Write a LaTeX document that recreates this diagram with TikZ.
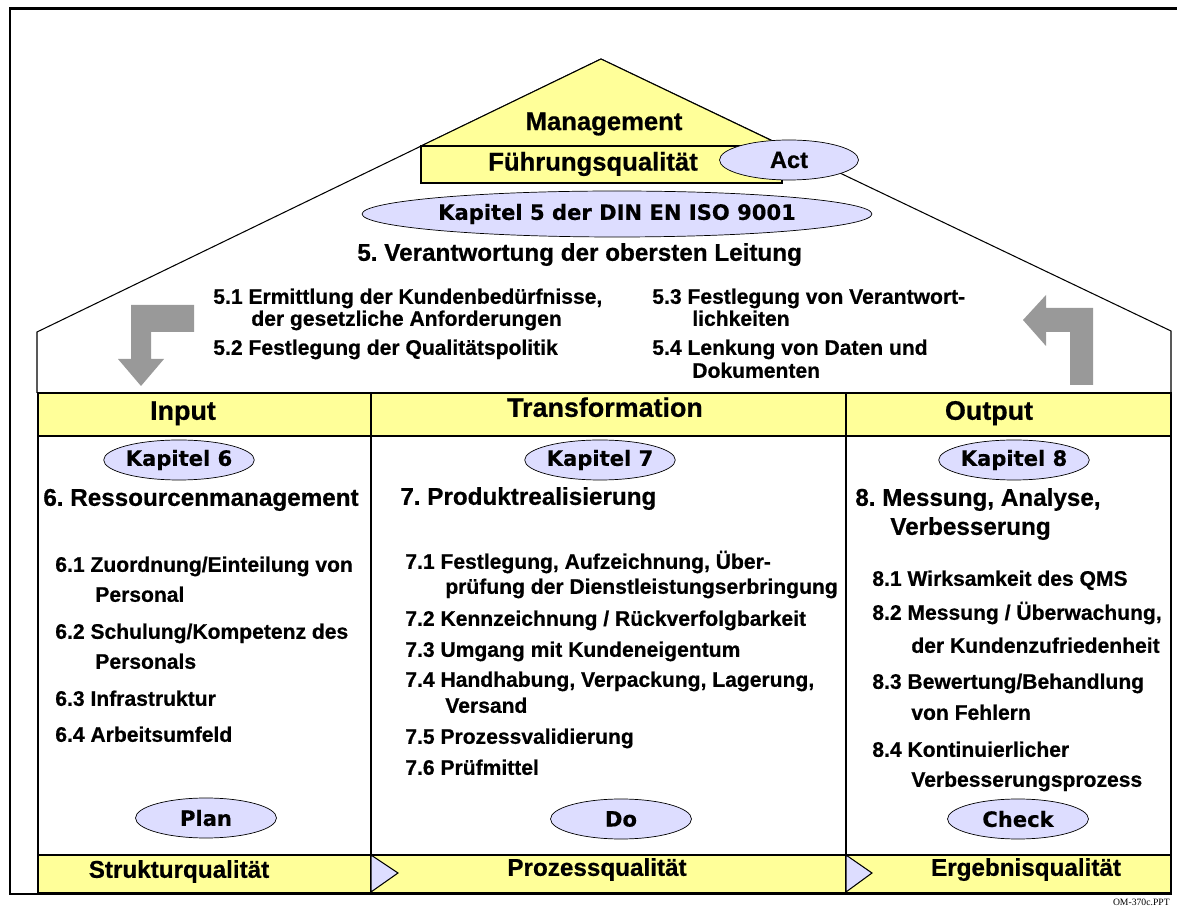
\documentclass[tikz,border=0pt]{standalone}
\usepackage{fontspec}
\setmainfont[BoldFeatures={FakeBold=0.6}]{Liberation Sans}
\newfontfamily\verdfont[BoldFeatures={FakeBold=0.4}]{DejaVu Sans}
\newfontfamily\pptfont{Liberation Serif}
\usetikzlibrary{shapes.geometric}
\frenchspacing

\definecolor{hellgelb}{RGB}{255,255,153}
\definecolor{lavendel}{RGB}{221,221,255}
\definecolor{pfeilgrau}{RGB}{153,153,153}

\tikzset{
  punkt/.style={anchor=west, inner sep=0pt, text height=1.5ex, text depth=0.25ex,
                font=\fontsize{12}{14}\selectfont\bfseries},
  kopf/.style={inner sep=0pt, text height=1.5ex, text depth=0.25ex,
               font=\fontsize{13.8}{16}\selectfont\bfseries},
  spalte/.style={inner sep=0pt, text height=1.5ex, text depth=0.25ex,
                 font=\fontsize{15.3}{18}\selectfont\bfseries},
  oval/.style={ellipse, draw, fill=lavendel, inner sep=0pt,
               minimum width=2.82cm, minimum height=0.8cm,
               font=\verdfont\fontsize{12}{14}\selectfont\bfseries},
  duenn/.style={line width=0.6pt}
}

\begin{document}
\begin{tikzpicture}[x=0.02cm, y=-0.02cm,   % pixel grid
                    line join=miter
                    ]

\useasboundingbox (0,0) rectangle (1177,911);
\fill[white] (0,0) rectangle (1177,911);

% Dach
\draw[duenn] (37,393) -- (37,332) -- (601,59) -- (1171,331) -- (1171,393);

\draw[duenn, fill=hellgelb] (601,59) -- (421,146) -- (783,146) -- cycle;
\draw[duenn, fill=hellgelb] (421,146) rectangle (782,183);
\node[font=\fontsize{14.6}{17}\selectfont\bfseries, inner sep=0pt] (mgmt) at (604,124) {Management};
\node[font=\fontsize{14.6}{17}\selectfont\bfseries, inner sep=0pt] (fuehrung) at (593,164) {Führungsqualität};
\node[oval, minimum width=2.78cm, font=\fontsize{13.4}{16}\selectfont\bfseries] (act) at (789,160) {Act};

% Kapitel 5
\node[oval, minimum width=10.2cm, minimum height=0.92cm] (kap5) at (617,214) {Kapitel 5 der DIN EN ISO 9001};
\node[kopf, anchor=west] (leitung) at (357,255) {5. Verantwortung der obersten Leitung};

\node[punkt] (p51) at (213,298) {5.1 Ermittlung der Kundenbedürfnisse,};
\node[punkt] (p51b) at (251,320) {der gesetzliche Anforderungen};
\node[punkt] (p52) at (213,349) {5.2 Festlegung der Qualitätspolitik};
\node[punkt] (p53) at (652,298) {5.3 Festlegung von Verantwort-};
\node[punkt] (p53b) at (692,320) {lichkeiten};
\node[punkt] (p54) at (652,349) {5.4 Lenkung von Daten und};
\node[punkt] (p54b) at (692,372) {Dokumenten};

% graue Pfeile
\fill[pfeilgrau] (194,305) -- (131,305) -- (131,359) -- (118,359) -- (141,386)
                 -- (164,359) -- (151,359) -- (151,332) -- (194,332) -- cycle;
\fill[pfeilgrau] (1070,385) -- (1093,385) -- (1093,308) -- (1046,308) -- (1046,295)
                 -- (1023,320) -- (1046,346) -- (1046,332) -- (1070,332) -- cycle;

% Tabelle
\draw[duenn, fill=hellgelb] (38,393) rectangle (1171,436);
\draw[duenn, fill=hellgelb] (38,855) rectangle (1171,893);
\draw[duenn] (38,393) -- (38,893);
\draw[duenn] (371,393) -- (371,893);
\draw[duenn] (846,393) -- (846,893);
\draw[duenn] (1171,393) -- (1171,893);

\draw[duenn, fill=lavendel] (371,855) -- (398,873) -- (371,892) -- cycle;
\draw[duenn, fill=lavendel] (846,855) -- (872,873) -- (846,892) -- cycle;

\node[spalte] (input) at (183,414) {Input};
\node[spalte] (transf) at (605,411) {Transformation};
\node[spalte] (output) at (989,414) {Output};

\node[kopf] (struktur) at (179,872) {Strukturqualität};
\node[kopf] (prozess) at (597,870) {Prozessqualität};
\node[kopf] (ergebnis) at (1026,870) {Ergebnisqualität};

% Input
\node[oval] (kap6) at (179,460) {Kapitel 6};
\node[kopf, anchor=west] (ress) at (43,500) {6. Ressourcenmanagement};
\node[punkt] (p61) at (55,566) {6.1 Zuordnung/Einteilung von};
\node[punkt] (p61b) at (95,596) {Personal};
\node[punkt] (p62) at (55,633) {6.2 Schulung/Kompetenz des};
\node[punkt] (p62b) at (95,663) {Personals};
\node[punkt] (p63) at (55,700) {6.3 Infrastruktur};
\node[punkt] (p64) at (55,736) {6.4 Arbeitsumfeld};
\node[oval] (plan) at (206,818) {Plan};

% Transformation
\node[oval] (kap7) at (600,460) {Kapitel 7};
\node[kopf, anchor=west] (prod) at (400,499) {7. Produktrealisierung};
\node[punkt] (p71) at (405,563) {7.1 Festlegung, Aufzeichnung, Über-};
\node[punkt] (p71b) at (445,588) {prüfung der Dienstleistungserbringung};
\node[punkt] (p72) at (405,620) {7.2 Kennzeichnung / Rückverfolgbarkeit};
\node[punkt] (p73) at (405,651) {7.3 Umgang mit Kundeneigentum};
\node[punkt] (p74) at (405,681) {7.4 Handhabung, Verpackung, Lagerung,};
\node[punkt] (p74b) at (445,707) {Versand};
\node[punkt] (p75) at (405,738) {7.5 Prozessvalidierung};
\node[punkt] (p76) at (405,769) {7.6 Prüfmittel};
\node[oval] (do) at (621,819) {Do};

% Output
\node[oval] (kap8) at (1014,460) {Kapitel 8};
\node[kopf, anchor=west] (mess) at (855,500) {8. Messung, Analyse,};
\node[kopf, anchor=west] (messb) at (890,529) {Verbesserung};
\node[punkt] (p81) at (872,580) {8.1 Wirksamkeit des QMS};
\node[punkt] (p82) at (872,614) {8.2 Messung / Überwachung,};
\node[punkt] (p82b) at (911,647) {der Kundenzufriedenheit};
\node[punkt] (p83) at (872,683) {8.3 Bewertung/Behandlung};
\node[punkt] (p83b) at (911,714) {von Fehlern};
\node[punkt] (p84) at (872,751) {8.4 Kontinuierlicher};
\node[punkt] (p84b) at (911,781) {Verbesserungsprozess};
\node[oval] (check) at (1018,819) {Check};

% Rahmen
\draw[line width=1.7pt] (1177,9) -- (10,9) -- (10,894) -- (1172,894);
\node[anchor=east, inner sep=0pt, font=\pptfont\fontsize{5.5}{6}\selectfont] (datei) at (1170,902) {OM-370c.PPT};

\end{tikzpicture}
\end{document}
